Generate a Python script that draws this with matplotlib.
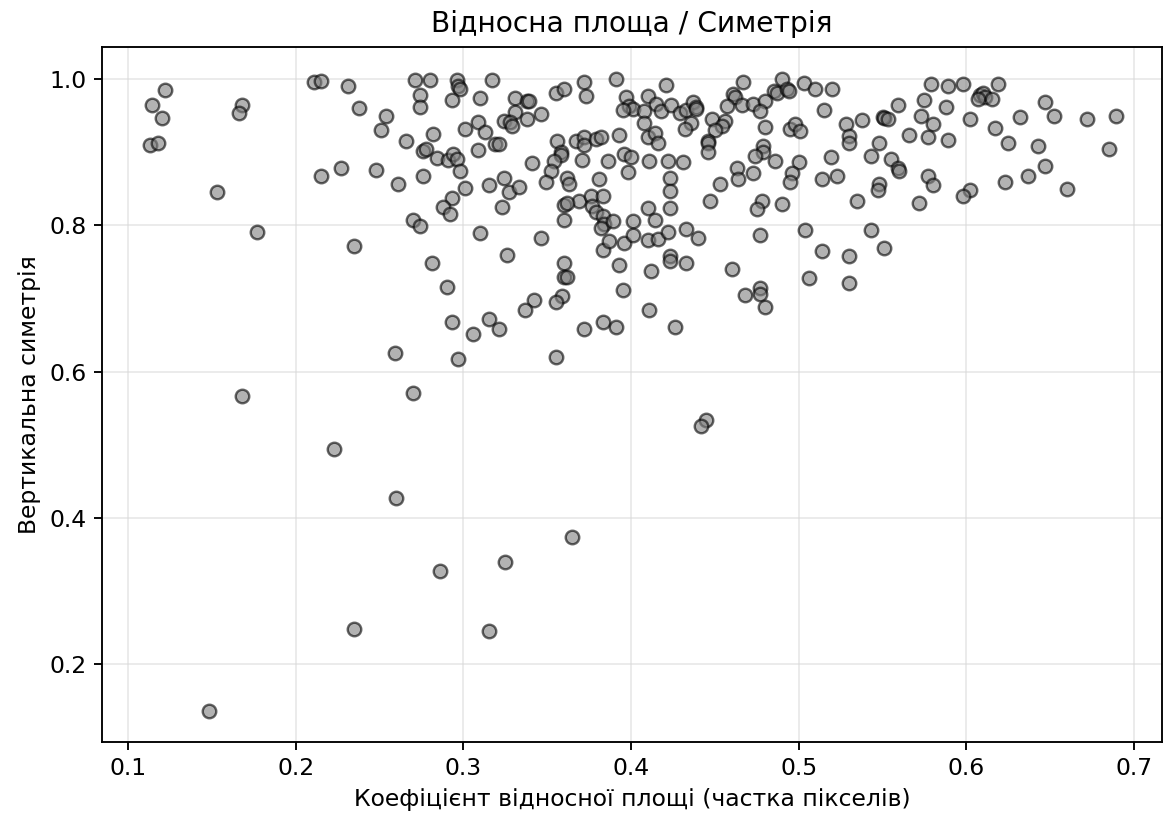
import matplotlib
matplotlib.use("Agg")
import matplotlib.pyplot as plt

# relative area ratio (share of pixels) vs. vertical symmetry, one point per sample
area = [
    0.122, 0.114, 0.120, 0.113, 0.118, 0.168, 0.166, 0.153, 0.177, 0.211,
    0.215, 0.231, 0.238, 0.227, 0.215, 0.235, 0.168, 0.223, 0.260, 0.365,
    0.325, 0.286, 0.235, 0.315, 0.148, 0.326, 0.281, 0.360, 0.393, 0.383,
    0.360, 0.362, 0.290, 0.395, 0.342, 0.359, 0.355, 0.337, 0.293, 0.315,
    0.321, 0.306, 0.372, 0.383, 0.391, 0.259, 0.297, 0.355, 0.270, 0.423,
    0.423, 0.433, 0.412, 0.460, 0.477, 0.477, 0.468, 0.480, 0.411, 0.426,
    0.514, 0.530, 0.551, 0.506, 0.530, 0.445, 0.442, 0.271, 0.280, 0.296,
    0.297, 0.298, 0.317, 0.274, 0.274, 0.293, 0.310, 0.331, 0.338, 0.339,
    0.355, 0.360, 0.372, 0.391, 0.373, 0.397, 0.399, 0.401, 0.395, 0.254,
    0.251, 0.266, 0.248, 0.261, 0.276, 0.282, 0.276, 0.278, 0.284, 0.291,
    0.294, 0.296, 0.298, 0.301, 0.309, 0.313, 0.309, 0.319, 0.321, 0.331,
    0.324, 0.328, 0.329, 0.338, 0.346, 0.356, 0.358, 0.358, 0.354, 0.352,
    0.349, 0.341, 0.324, 0.315, 0.301, 0.327, 0.333, 0.323, 0.293, 0.288,
    0.292, 0.270, 0.274, 0.310, 0.346, 0.367, 0.372, 0.372, 0.379, 0.382,
    0.393, 0.371, 0.386, 0.362, 0.363, 0.381, 0.369, 0.360, 0.362, 0.376,
    0.383, 0.377, 0.379, 0.383, 0.384, 0.382, 0.389, 0.360, 0.387, 0.396,
    0.396, 0.398, 0.400, 0.421, 0.467, 0.490, 0.503, 0.510, 0.520, 0.485,
    0.487, 0.493, 0.494, 0.410, 0.415, 0.408, 0.418, 0.424, 0.429, 0.433,
    0.437, 0.439, 0.439, 0.408, 0.410, 0.414, 0.416, 0.436, 0.432, 0.448,
    0.456, 0.454, 0.450, 0.446, 0.446, 0.446, 0.461, 0.462, 0.457, 0.466,
    0.473, 0.480, 0.477, 0.480, 0.479, 0.479, 0.474, 0.486, 0.495, 0.498,
    0.501, 0.500, 0.496, 0.495, 0.515, 0.528, 0.530, 0.530, 0.538, 0.548,
    0.550, 0.551, 0.553, 0.543, 0.519, 0.523, 0.514, 0.548, 0.547, 0.535,
    0.411, 0.422, 0.431, 0.423, 0.423, 0.423, 0.410, 0.414, 0.401, 0.401,
    0.410, 0.416, 0.422, 0.433, 0.440, 0.453, 0.463, 0.464, 0.473, 0.447,
    0.478, 0.475, 0.490, 0.477, 0.504, 0.543, 0.579, 0.589, 0.598, 0.619,
    0.608, 0.610, 0.611, 0.607, 0.615, 0.559, 0.575, 0.588, 0.573, 0.580,
    0.602, 0.632, 0.647, 0.652, 0.672, 0.689, 0.617, 0.566, 0.577, 0.589,
    0.625, 0.643, 0.685, 0.555, 0.559, 0.560, 0.647, 0.637, 0.623, 0.577,
    0.580, 0.602, 0.598, 0.660, 0.572,
]
symmetry = [
    0.985, 0.964, 0.947, 0.910, 0.912, 0.964, 0.953, 0.845, 0.791, 0.996,
    0.997, 0.990, 0.961, 0.878, 0.868, 0.772, 0.567, 0.494, 0.427, 0.374,
    0.340, 0.328, 0.248, 0.246, 0.136, 0.760, 0.749, 0.748, 0.746, 0.766,
    0.729, 0.730, 0.716, 0.712, 0.698, 0.703, 0.695, 0.684, 0.668, 0.672,
    0.659, 0.651, 0.659, 0.668, 0.661, 0.625, 0.618, 0.620, 0.571, 0.758,
    0.752, 0.748, 0.737, 0.740, 0.715, 0.706, 0.705, 0.689, 0.685, 0.661,
    0.765, 0.758, 0.769, 0.728, 0.721, 0.534, 0.526, 0.998, 0.998, 0.998,
    0.991, 0.986, 0.999, 0.978, 0.962, 0.971, 0.974, 0.974, 0.970, 0.970,
    0.981, 0.986, 0.996, 1.000, 0.977, 0.976, 0.963, 0.959, 0.958, 0.949,
    0.930, 0.915, 0.876, 0.856, 0.867, 0.925, 0.902, 0.905, 0.892, 0.889,
    0.897, 0.891, 0.874, 0.932, 0.941, 0.927, 0.903, 0.911, 0.911, 0.955,
    0.943, 0.941, 0.936, 0.946, 0.952, 0.915, 0.900, 0.896, 0.888, 0.874,
    0.859, 0.885, 0.865, 0.855, 0.851, 0.845, 0.853, 0.825, 0.838, 0.825,
    0.816, 0.808, 0.799, 0.789, 0.783, 0.916, 0.921, 0.910, 0.918, 0.921,
    0.924, 0.889, 0.888, 0.865, 0.857, 0.864, 0.834, 0.828, 0.830, 0.840,
    0.840, 0.826, 0.818, 0.813, 0.802, 0.796, 0.806, 0.807, 0.778, 0.776,
    0.897, 0.873, 0.894, 0.992, 0.996, 1.000, 0.995, 0.986, 0.986, 0.983,
    0.981, 0.986, 0.984, 0.977, 0.966, 0.956, 0.956, 0.965, 0.953, 0.958,
    0.969, 0.962, 0.959, 0.940, 0.921, 0.926, 0.913, 0.940, 0.932, 0.945,
    0.942, 0.936, 0.930, 0.916, 0.912, 0.900, 0.979, 0.975, 0.963, 0.964,
    0.966, 0.970, 0.956, 0.935, 0.909, 0.900, 0.895, 0.888, 0.932, 0.939,
    0.929, 0.887, 0.872, 0.859, 0.958, 0.939, 0.922, 0.913, 0.944, 0.913,
    0.948, 0.947, 0.946, 0.895, 0.894, 0.868, 0.864, 0.857, 0.849, 0.833,
    0.888, 0.888, 0.886, 0.865, 0.847, 0.824, 0.824, 0.808, 0.806, 0.787,
    0.780, 0.782, 0.791, 0.795, 0.783, 0.857, 0.879, 0.864, 0.872, 0.834,
    0.834, 0.823, 0.829, 0.787, 0.794, 0.794, 0.993, 0.990, 0.993, 0.993,
    0.978, 0.981, 0.976, 0.973, 0.973, 0.964, 0.971, 0.962, 0.950, 0.939,
    0.945, 0.948, 0.968, 0.949, 0.946, 0.950, 0.933, 0.923, 0.921, 0.917,
    0.913, 0.909, 0.904, 0.891, 0.878, 0.874, 0.881, 0.867, 0.859, 0.868,
    0.855, 0.849, 0.840, 0.850, 0.831,
]

plt.rcParams.update({
    "axes.linewidth": 0.9,
    "xtick.major.size": 3.9, "ytick.major.size": 3.9,
    "xtick.major.width": 0.9, "ytick.major.width": 0.9,
    "xtick.labelsize": 11.25, "ytick.labelsize": 11.25,
})

fig = plt.figure(figsize=(7.76, 5.46), dpi=150)
ax = fig.add_axes([0.0874, 0.0944, 0.9109, 0.8486])

ax.scatter(area, symmetry, s=42, c="gray", edgecolors="black",
           linewidths=1.15, alpha=0.6, zorder=3)

ax.set_xlim(0.0843, 0.7167)
ax.set_ylim(0.0945, 1.0442)
ax.set_xticks([0.1, 0.2, 0.3, 0.4, 0.5, 0.6, 0.7])
ax.set_yticks([0.2, 0.4, 0.6, 0.8, 1.0])
ax.grid(True, color="#d9d9d9", alpha=0.6, linewidth=0.8)
ax.set_axisbelow(True)

ax.set_title("Відносна площа / Симетрія", fontsize=13.5, pad=7)
ax.set_xlabel("Коефіцієнт відносної площі (частка пікселів)", fontsize=11.25)
ax.set_ylabel("Вертикальна симетрія", fontsize=11.25)

fig.savefig("out.png", dpi=150)
